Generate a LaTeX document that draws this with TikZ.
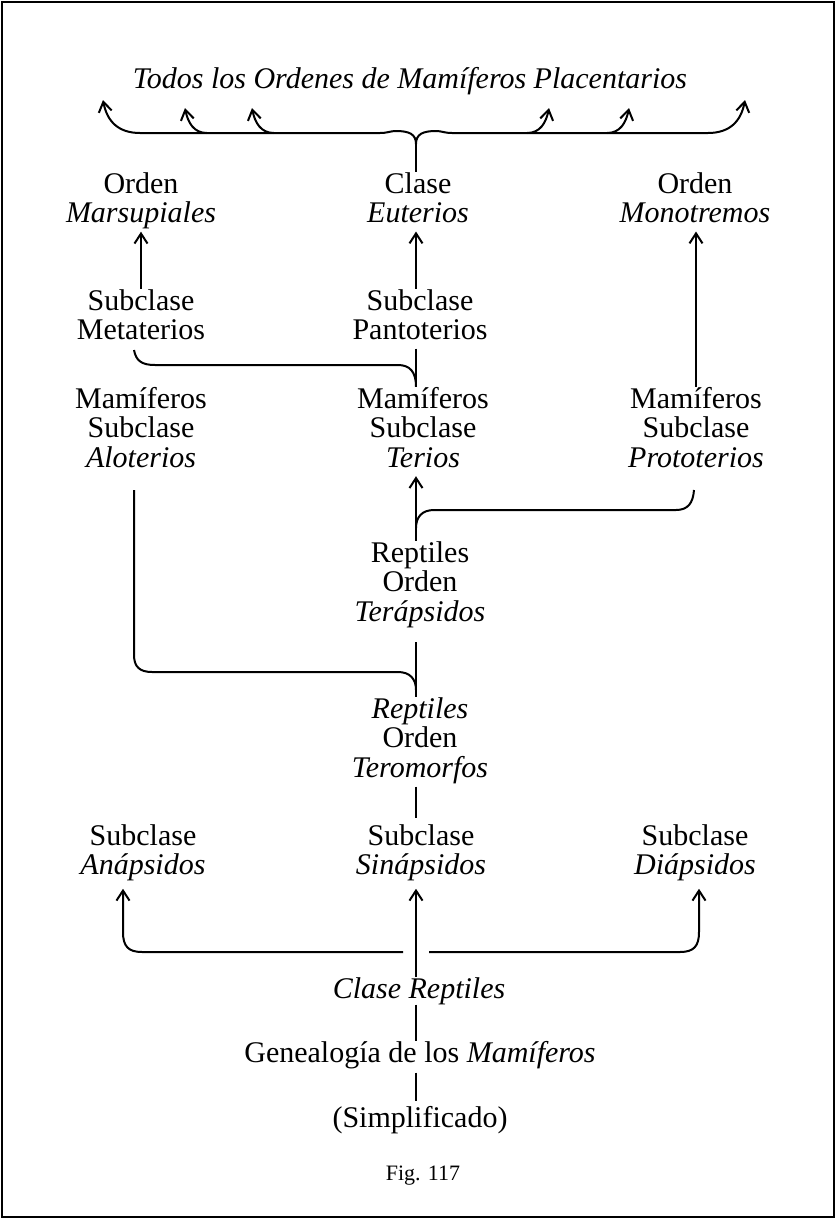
\documentclass[tikz,border=0pt]{standalone}
\usepackage{fontspec}
\setmainfont{Liberation Serif}
\usetikzlibrary{arrows.meta}
% centred stack of lines whose baseline is the first line
\newcommand{\stk}[1]{\begin{tabular}[t]{@{}c@{}}#1\end{tabular}}
\begin{document}
\begin{tikzpicture}[x=1pt,y=-1pt,
  lbl/.style={anchor=base, inner sep=0pt, font=\fontsize{30}{29.5}\selectfont},
  figlbl/.style={anchor=base, inner sep=0pt, font=\fontsize{22}{26}\selectfont},
  conn/.style={line width=2pt},
  arr/.style={conn, -{Straight Barb[length=10pt,width=13pt,line width=2pt]}},
  frame/.style={line width=2.6pt}
]
\useasboundingbox (0,0) rectangle (836,1219);
\draw[frame] (2,2) rectangle (834,1217);

% vertical guide lines of the connectors
\coordinate (axis) at (416,0);
\coordinate (lline) at (134,0);
\coordinate (larr) at (123,0);
\coordinate (rarr) at (699,0);

% ---- labels ----
\node[lbl] (todos) at (410,88) {\textit{Todos los Ordenes de Mamíferos Placentarios}};
\node[lbl] (mars)  at (141,193) {\stk{Orden\\\textit{Marsupiales}}};
\node[lbl] (eut)   at (418,193) {\stk{Clase\\\textit{Euterios}}};
\node[lbl] (mono)  at (695,193) {\stk{Orden\\\textit{Monotremos}}};
\node[lbl] (meta)  at (141,310) {\stk{Subclase\\Metaterios}};
\node[lbl] (panto) at (420,310) {\stk{Subclase\\Pantoterios}};
\node[lbl] (alot)  at (141,408) {\stk{Mamíferos\\Subclase\\\textit{Aloterios}}};
\node[lbl] (terios) at (423,408) {\stk{Mamíferos\\Subclase\\\textit{Terios}}};
\node[lbl] (proto) at (696,408) {\stk{Mamíferos\\Subclase\\\textit{Prototerios}}};
\node[lbl] (terap) at (420,562) {\stk{Reptiles\\Orden\\\textit{Terápsidos}}};
\node[lbl] (terom) at (420,718) {\stk{\textit{Reptiles}\\Orden\\\textit{Teromorfos}}};
\node[lbl] (anap)  at (143,845) {\stk{Subclase\\\textit{Anápsidos}}};
\node[lbl] (sinap) at (421,845) {\stk{Subclase\\\textit{Sinápsidos}}};
\node[lbl] (diap)  at (695,845) {\stk{Subclase\\\textit{Diápsidos}}};
\node[lbl] (clase) at (419,998) {\textit{Clase Reptiles}};
\node[lbl] (gene)  at (420,1062) {Genealogía de los \textit{Mamíferos}};
\node[lbl] (simp)  at (420,1127) {(Simplificado)};
\node[figlbl] (fig) at (423,1180) {Fig. 117};

% ---- free ends ----
\coordinate (t1) at (103,100);
\coordinate (t2) at (185,108);
\coordinate (t3) at (252,108);
\coordinate (t4) at (549,108);
\coordinate (t5) at (629,108);
\coordinate (t6) at (745,100);
\coordinate (cusp) at (416,144);
\coordinate (b2) at (207,133);
\coordinate (b3) at (274,133);
\coordinate (b4) at (527,133);
\coordinate (b5) at (607,133);
\coordinate (metaend) at (134,350);
\coordinate (protoend) at (694,490);
\coordinate (aloend) at (134,490);
\coordinate (lgap) at (403,952);
\coordinate (rgap) at (429,952);

% ---- top brace to all placental orders ----
\draw[conn] (cusp) -- (eut.north -| axis);
\draw[arr] (cusp) .. controls (416,134) and (409,131) .. (396,131)
  .. controls (390,131) and (388,133) .. (380,133)
  -- (140,133) .. controls (118,133) and (107,121) .. (t1);
\draw[arr] (cusp) .. controls (416,134) and (423,131) .. (436,131)
  .. controls (442,131) and (444,133) .. (452,133)
  -- (708,133) .. controls (730,133) and (741,121) .. (t6);
\draw[arr] (b2) .. controls (194,133) and (188,123) .. (t2);
\draw[arr] (b3) .. controls (261,133) and (255,123) .. (t3);
\draw[arr] (b4) .. controls (540,133) and (546,123) .. (t4);
\draw[arr] (b5) .. controls (620,133) and (626,123) .. (t5);

% ---- upward arrows to the orders ----
\draw[arr] (meta.north) -- (mars.south);
\draw[arr] (panto.north -| axis) -- (eut.south -| axis);
\draw[arr] (proto.north) -- (mono.south -| proto.north);

% ---- Metaterios and Pantoterios from Terios ----
\draw[conn] (panto.south -| axis) -- (terios.north -| axis);
\draw[conn] (metaend) .. controls (136,361) and (142,365) .. (155,365)
  -- (398,365) .. controls (410,365) and (416,372) .. (terios.north -| axis);

% ---- Terios and Prototerios from Terapsidos ----
\draw[arr] (terap.north -| axis) -- (terios.south -| axis);
\draw[conn] (protoend) .. controls (693,503) and (688,510) .. (676,510)
  -- (434,510) .. controls (422,510) and (416,517) .. (416,528);

% ---- Aloterios and Terapsidos from Teromorfos ----
\draw[conn, shorten <=12pt] (terap.south -| axis) -- (terom.north -| axis);
\draw[conn] (aloend) -- (134,655) .. controls (134,667) and (140,672) .. (152,672)
  -- (398,672) .. controls (410,672) and (416,679) .. (416,690);

% ---- Teromorfos from Sinapsidos ----
\draw[conn, shorten >=6pt] (terom.south -| axis) -- (sinap.north -| axis);

% ---- the three subclasses from Clase Reptiles ----
\draw[arr, shorten >=5pt] (clase.north -| axis) -- (sinap.south -| axis);
\draw[arr, shorten >=5pt] (lgap) -- (142,952) .. controls (128,952) and (123,946) .. (123,932)
  -- (anap.south -| larr);
\draw[arr, shorten >=5pt] (rgap) -- (680,952) .. controls (694,952) and (699,946) .. (699,932)
  -- (diap.south -| rarr);

% ---- caption chain ----
\draw[conn] (clase.south -| axis) -- (gene.north -| axis);
\draw[conn, shorten <=4pt, shorten >=5pt] (gene.south -| axis) -- (simp.north -| axis);
\end{tikzpicture}
\end{document}
